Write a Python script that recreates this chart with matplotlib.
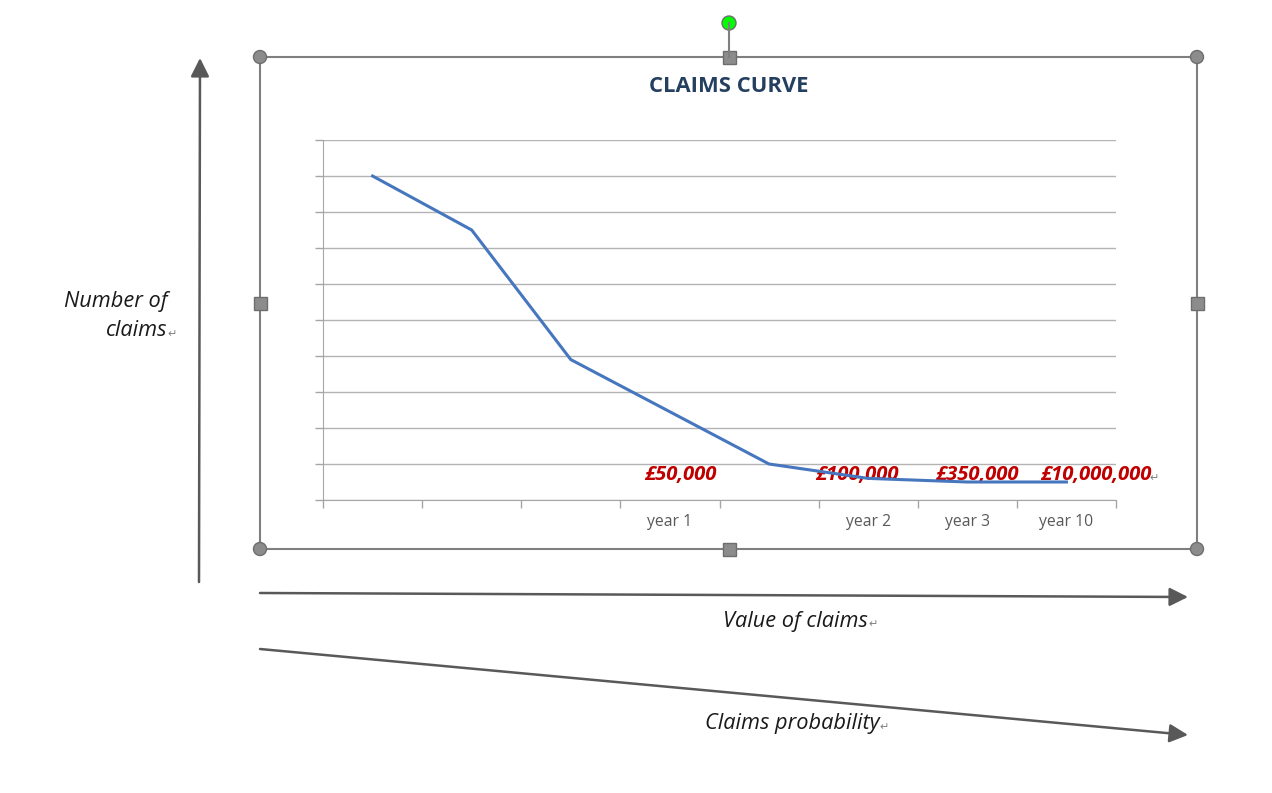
import matplotlib.pyplot as plt
from matplotlib.patches import Circle, Rectangle

# données de la courbe (8 catégories, axe 0-100)
categories = ['', '', '', 'year 1', '', 'year 2', 'year 3', 'year 10']
claims = [90, 75, 39, 24.5, 10, 6, 5, 5]
montants = ['£50,000', '£100,000', '£350,000', '£10,000,000']

W, H = 1272, 793
fig = plt.figure(figsize=(W / 100, H / 100), dpi=100)

# calque en pixels pour le cadre, les flèches et les textes du document
fond = fig.add_axes([0, 0, 1, 1])
fond.set_xlim(0, W)
fond.set_ylim(H, 0)
fond.axis('off')

# graphique
ax = fig.add_axes([323 / W, (H - 500) / H, (1116 - 323) / W, 360 / H])
x = range(len(categories))
ax.plot(x, claims, color='#4677BE', lw=2.2, solid_joinstyle='miter')
ax.set_xlim(-0.5, len(categories) - 0.5)
ax.set_ylim(0, 100)
ax.set_yticks(range(0, 101, 10))
ax.set_yticklabels([])
ax.tick_params(axis='y', length=6, color='#A6A6A6', width=1)
ax.grid(axis='y', color='#B3B3B3', lw=1)
ax.set_axisbelow(True)
ax.set_xticks(list(x))
ax.set_xticklabels(categories, fontsize=11.3, color='#595959', family='Open Sans')
ax.tick_params(axis='x', which='major', length=0, pad=10)
ax.set_xticks([i - 0.5 for i in range(len(categories) + 1)], minor=True)
ax.tick_params(axis='x', which='minor', length=6, color='#A6A6A6', width=1)
for s in ['top', 'right']:
    ax.spines[s].set_visible(False)
for s in ['left', 'bottom']:
    ax.spines[s].set_color('#A6A6A6')
ax.set_facecolor('none')

# titre
fond.text(729, 87, 'CLAIMS CURVE', ha='center', va='center', fontsize=15.8,
          fontweight='bold', color='#243F60', family='Open Sans')

# montants en rouge
for txt, px in zip(montants, [680, 857, 977, 1096]):
    fond.text(px, 475, txt, ha='center', va='center', fontsize=14.6,
              fontweight='bold', fontstyle='italic', color='#C00000', family='Open Sans')
fond.text(1154, 478, '↵', ha='center', va='center', fontsize=8, color='#808080')

# cadre de sélection
gris = '#7F7F7F'
fond.add_patch(Rectangle((260, 57), 937, 492, fill=False, ec=gris, lw=1.5))
fond.plot([729, 729], [23, 57], color=gris, lw=1.5)
for cx, cy in [(260, 57), (1197, 57), (260, 549), (1197, 549)]:
    fond.add_patch(Circle((cx, cy), 6.5, fc='#8C8C8C', ec='#6E6E6E', lw=1))
for cx, cy in [(729, 57), (729, 549), (260, 303), (1197, 303)]:
    fond.add_patch(Rectangle((cx - 6.5, cy - 6.5), 13, 13, fc='#8C8C8C', ec='#6E6E6E', lw=1))
fond.add_patch(Circle((729, 23), 7, fc='#00FF00', ec='#6E6E6E', lw=1))

# flèches
fleche = dict(arrowstyle='-|>', color='#595959', lw=1.8, mutation_scale=28, shrinkA=0, shrinkB=0)
fond.annotate('', xy=(200, 58), xytext=(199, 582), arrowprops=fleche)
fond.annotate('', xy=(1188, 597), xytext=(260, 593), arrowprops=fleche)
fond.annotate('', xy=(1188, 735), xytext=(260, 649), arrowprops=fleche)

# libellés en italique
style = dict(fontsize=15.7, fontstyle='italic', color='#1A1A1A', family='Open Sans', va='center')
fond.text(168, 302, 'Number of', ha='right', **style)
fond.text(167, 330, 'claims', ha='right', **style)
fond.text(172, 334, '↵', ha='center', va='center', fontsize=8, color='#808080')
fond.text(723, 621, 'Value of claims', ha='left', **style)
fond.text(873, 624, '↵', ha='center', va='center', fontsize=8, color='#808080')
fond.text(705, 724, 'Claims probability', ha='left', **style)
fond.text(884, 727, '↵', ha='center', va='center', fontsize=8, color='#808080')

fig.savefig('out.png', dpi=100)
